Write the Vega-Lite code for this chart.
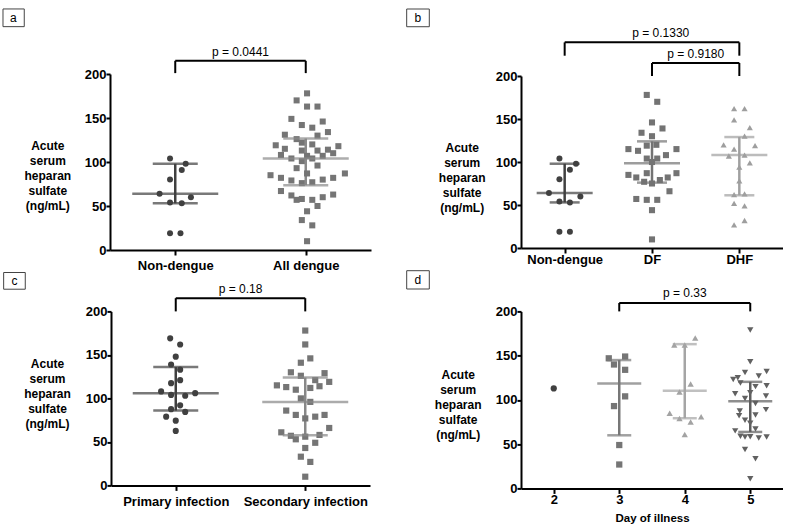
{
"$schema":"https://vega.github.io/schema/vega-lite/v6.json",
"background":"white",
"padding":{"left":2,"top":8,"right":0,"bottom":0},
"config":{
 "view":{"stroke":null},
 "font":"Liberation Sans",
 "axis":{"domainColor":"#000","domainWidth":2,"tickColor":"#000","tickWidth":2,"tickSize":5,"labelColor":"#000","labelFont":"Liberation Sans","labelFontSize":13,"labelFontWeight":"bold","titleFont":"Liberation Sans","titleFontSize":12,"titleFontWeight":"bold","titleColor":"#000","grid":false,"labelFlush":false,"labelOverlap":false},
 "axisY":{"titleAngle":0,"titleAlign":"center","titleBaseline":"middle","titleLineHeight":15,"tickSize":4,"labelPadding":0},
 "text":{"font":"Liberation Sans","fontSize":12,"color":"#000"}
},
"datasets":{
 "a_pts":[
  {"g":"Non-dengue","x":0.96,"v":104},{"g":"Non-dengue","x":1.08,"v":98},{"g":"Non-dengue","x":1.05,"v":91},{"g":"Non-dengue","x":0.96,"v":80},{"g":"Non-dengue","x":0.88,"v":64},{"g":"Non-dengue","x":1.12,"v":60},{"g":"Non-dengue","x":0.96,"v":54},{"g":"Non-dengue","x":1.05,"v":53},{"g":"Non-dengue","x":0.96,"v":19},{"g":"Non-dengue","x":1.04,"v":19},
  {"g":"All dengue","x":2.01,"v":178},{"g":"All dengue","x":1.93,"v":170},{"g":"All dengue","x":2.01,"v":163},{"g":"All dengue","x":2.09,"v":163},{"g":"All dengue","x":1.89,"v":149},{"g":"All dengue","x":1.97,"v":142},{"g":"All dengue","x":2.05,"v":139},{"g":"All dengue","x":2.13,"v":146},{"g":"All dengue","x":2.17,"v":134},{"g":"All dengue","x":1.84,"v":131},
  {"g":"All dengue","x":1.93,"v":126},{"g":"All dengue","x":2.09,"v":130},{"g":"All dengue","x":1.97,"v":122},{"g":"All dengue","x":2.05,"v":120},{"g":"All dengue","x":1.77,"v":119},{"g":"All dengue","x":1.84,"v":115},{"g":"All dengue","x":1.97,"v":113},{"g":"All dengue","x":2.09,"v":113},{"g":"All dengue","x":2.17,"v":114},{"g":"All dengue","x":2.25,"v":118},
  {"g":"All dengue","x":2.21,"v":110},{"g":"All dengue","x":1.81,"v":108},{"g":"All dengue","x":1.89,"v":104},{"g":"All dengue","x":1.97,"v":101},{"g":"All dengue","x":2.05,"v":104},{"g":"All dengue","x":2.13,"v":107},{"g":"All dengue","x":2.01,"v":107},{"g":"All dengue","x":2.09,"v":96},{"g":"All dengue","x":1.93,"v":93},{"g":"All dengue","x":2.01,"v":87},
  {"g":"All dengue","x":1.73,"v":85},{"g":"All dengue","x":1.81,"v":82},{"g":"All dengue","x":1.89,"v":79},{"g":"All dengue","x":1.97,"v":76},{"g":"All dengue","x":2.05,"v":77},{"g":"All dengue","x":2.13,"v":80},{"g":"All dengue","x":2.21,"v":82},{"g":"All dengue","x":2.3,"v":87},{"g":"All dengue","x":1.81,"v":67},{"g":"All dengue","x":1.89,"v":62},
  {"g":"All dengue","x":1.93,"v":57},{"g":"All dengue","x":1.97,"v":58},{"g":"All dengue","x":2.05,"v":57},{"g":"All dengue","x":2.09,"v":50},{"g":"All dengue","x":2.13,"v":60},{"g":"All dengue","x":2.21,"v":63},{"g":"All dengue","x":2.01,"v":44},{"g":"All dengue","x":1.97,"v":34},{"g":"All dengue","x":2.05,"v":28},{"g":"All dengue","x":2.01,"v":10}
 ],
 "a_stats":[{"g":"Non-dengue","x":1,"v":64,"lo":53,"hi":98},{"g":"All dengue","x":2,"v":104,"lo":73.6,"hi":126.7}],
 "a_br":[{"x":1,"x2":2,"v":215,"v2":215},{"x":1,"x2":1,"v":201,"v2":215},{"x":2,"x2":2,"v":201,"v2":215}],
 "a_txt":[{"x":1.5,"v":225.5,"t":"p = 0.0441"},{"x":-0.24,"v":263.9,"t":"a"}],
 "a_box":[{"x":-0.32,"x2":-0.157,"v":273.9,"v2":253.8}],
 "b_pts":[
  {"g":"Non-dengue","x":0.94,"v":104},{"g":"Non-dengue","x":1.13,"v":98},{"g":"Non-dengue","x":1.06,"v":91},{"g":"Non-dengue","x":0.94,"v":80},{"g":"Non-dengue","x":0.82,"v":64},{"g":"Non-dengue","x":1.18,"v":60},{"g":"Non-dengue","x":0.94,"v":54},{"g":"Non-dengue","x":1.06,"v":53},{"g":"Non-dengue","x":0.94,"v":19},{"g":"Non-dengue","x":1.06,"v":19},
  {"g":"DF","x":1.94,"v":178},{"g":"DF","x":2.06,"v":170},{"g":"DF","x":2.0,"v":146},{"g":"DF","x":2.12,"v":139},{"g":"DF","x":1.88,"v":134},{"g":"DF","x":2.0,"v":130},{"g":"DF","x":1.94,"v":119},{"g":"DF","x":2.05,"v":120},{"g":"DF","x":1.73,"v":115},{"g":"DF","x":1.84,"v":113},
  {"g":"DF","x":2.28,"v":115},{"g":"DF","x":2.16,"v":108},{"g":"DF","x":1.94,"v":104},{"g":"DF","x":2.06,"v":104},{"g":"DF","x":2.0,"v":100},{"g":"DF","x":1.94,"v":87},{"g":"DF","x":1.73,"v":85},{"g":"DF","x":2.28,"v":87},{"g":"DF","x":1.82,"v":82},{"g":"DF","x":2.18,"v":82},
  {"g":"DF","x":1.91,"v":77},{"g":"DF","x":2.09,"v":79},{"g":"DF","x":2.0,"v":75},{"g":"DF","x":2.2,"v":66},{"g":"DF","x":1.82,"v":57},{"g":"DF","x":1.94,"v":56},{"g":"DF","x":2.06,"v":56},{"g":"DF","x":2.0,"v":44},{"g":"DF","x":2.0,"v":10},
  {"g":"DHF","x":2.94,"v":162},{"g":"DHF","x":3.06,"v":162},{"g":"DHF","x":2.94,"v":149},{"g":"DHF","x":3.12,"v":140},{"g":"DHF","x":3.06,"v":130},{"g":"DHF","x":2.82,"v":120},{"g":"DHF","x":3.18,"v":119},{"g":"DHF","x":2.94,"v":115},{"g":"DHF","x":3.06,"v":108},{"g":"DHF","x":2.88,"v":107},
  {"g":"DHF","x":3.12,"v":99},{"g":"DHF","x":3.0,"v":94},{"g":"DHF","x":3.0,"v":78},{"g":"DHF","x":2.94,"v":62},{"g":"DHF","x":3.06,"v":63},{"g":"DHF","x":2.94,"v":52},{"g":"DHF","x":3.06,"v":49},{"g":"DHF","x":2.94,"v":27},{"g":"DHF","x":3.06,"v":32}
 ],
 "b_stats":[{"g":"Non-dengue","x":1,"v":64,"lo":53,"hi":98},{"g":"DF","x":2,"v":98.6,"lo":76,"hi":124},{"g":"DHF","x":3,"v":108,"lo":61.3,"hi":129}],
 "b_br":[{"x":1,"x2":3,"v":239.1,"v2":239.1},{"x":1,"x2":1,"v":223.6,"v2":239.1},{"x":3,"x2":3,"v":223.6,"v2":239.1},{"x":2,"x2":3,"v":215.1,"v2":215.1},{"x":2,"x2":2,"v":200,"v2":215.1},{"x":3,"x2":3,"v":200,"v2":215.1}],
 "b_txt":[{"x":2.1,"v":250,"t":"p = 0.1330"},{"x":2.5,"v":225.6,"t":"p = 0.9180"},{"x":-0.68,"v":267.6,"t":"b"}],
 "b_box":[{"x":-0.809,"x2":-0.55,"v":277.9,"v2":257.3}],
 "c_pts":[
  {"g":"Primary infection","x":0.957,"v":169},{"g":"Primary infection","x":1.034,"v":162},{"g":"Primary infection","x":1.0,"v":148},{"g":"Primary infection","x":0.964,"v":139},{"g":"Primary infection","x":1.034,"v":133},{"g":"Primary infection","x":1.034,"v":121},{"g":"Primary infection","x":0.964,"v":117.5},{"g":"Primary infection","x":0.887,"v":108},{"g":"Primary infection","x":0.964,"v":104},{"g":"Primary infection","x":1.073,"v":103},
  {"g":"Primary infection","x":1.15,"v":106},{"g":"Primary infection","x":1.034,"v":92},{"g":"Primary infection","x":0.964,"v":87.6},{"g":"Primary infection","x":1.073,"v":84.5},{"g":"Primary infection","x":0.926,"v":79},{"g":"Primary infection","x":1.0,"v":74.4},{"g":"Primary infection","x":1.0,"v":62.6},
  {"g":"Secondary infection","x":2.0,"v":178},{"g":"Secondary infection","x":2.0,"v":162},{"g":"Secondary infection","x":1.966,"v":141},{"g":"Secondary infection","x":2.039,"v":146},{"g":"Secondary infection","x":1.889,"v":130},{"g":"Secondary infection","x":1.966,"v":126},{"g":"Secondary infection","x":2.149,"v":129},{"g":"Secondary infection","x":2.077,"v":121},{"g":"Secondary infection","x":2.185,"v":119},{"g":"Secondary infection","x":1.781,"v":115},
  {"g":"Secondary infection","x":1.853,"v":113},{"g":"Secondary infection","x":1.927,"v":110},{"g":"Secondary infection","x":2.039,"v":112},{"g":"Secondary infection","x":2.11,"v":114},{"g":"Secondary infection","x":1.966,"v":100},{"g":"Secondary infection","x":2.039,"v":96},{"g":"Secondary infection","x":1.853,"v":86},{"g":"Secondary infection","x":1.927,"v":81},{"g":"Secondary infection","x":2.0,"v":77},{"g":"Secondary infection","x":2.077,"v":79},
  {"g":"Secondary infection","x":2.149,"v":81},{"g":"Secondary infection","x":2.185,"v":66},{"g":"Secondary infection","x":1.815,"v":61},{"g":"Secondary infection","x":1.889,"v":57},{"g":"Secondary infection","x":1.927,"v":53},{"g":"Secondary infection","x":2.0,"v":56},{"g":"Secondary infection","x":2.11,"v":58},{"g":"Secondary infection","x":2.077,"v":49},{"g":"Secondary infection","x":2.0,"v":43},{"g":"Secondary infection","x":1.966,"v":33},
  {"g":"Secondary infection","x":2.039,"v":27},{"g":"Secondary infection","x":2.0,"v":10}
 ],
 "c_stats":[{"g":"Primary infection","x":1,"v":106,"lo":86,"hi":136},{"g":"Secondary infection","x":2,"v":96,"lo":57.6,"hi":124}],
 "c_br":[{"x":1,"x2":2,"v":215.2,"v2":215.2},{"x":1,"x2":1,"v":200,"v2":215.2},{"x":2,"x2":2,"v":200,"v2":215.2}],
 "c_txt":[{"x":1.5,"v":225.5,"t":"p = 0.18"},{"x":-0.245,"v":235.1,"t":"c"}],
 "c_box":[{"x":-0.329,"x2":-0.162,"v":244.7,"v2":225.5}],
 "d_pts":[
  {"g":"Day 2","x":2,"v":113},
  {"g":"Day 3","x":2.84,"v":147},{"g":"Day 3","x":3.09,"v":149},{"g":"Day 3","x":2.92,"v":140},{"g":"Day 3","x":3.09,"v":134},{"g":"Day 3","x":3.09,"v":104},{"g":"Day 3","x":2.92,"v":93},{"g":"Day 3","x":3.0,"v":49},{"g":"Day 3","x":3.0,"v":27},
  {"g":"Day 4","x":4.16,"v":170},{"g":"Day 4","x":3.84,"v":162},{"g":"Day 4","x":4.0,"v":162},{"g":"Day 4","x":4.09,"v":118},{"g":"Day 4","x":3.92,"v":109},{"g":"Day 4","x":3.77,"v":85},{"g":"Day 4","x":3.92,"v":79},{"g":"Day 4","x":4.09,"v":75},{"g":"Day 4","x":4.25,"v":81},{"g":"Day 4","x":4.0,"v":61},
  {"g":"Day 5","x":5.0,"v":179},{"g":"Day 5","x":5.0,"v":143},{"g":"Day 5","x":4.92,"v":131},{"g":"Day 5","x":5.13,"v":127},{"g":"Day 5","x":5.25,"v":132},{"g":"Day 5","x":4.74,"v":123},{"g":"Day 5","x":4.81,"v":125},{"g":"Day 5","x":4.85,"v":119},{"g":"Day 5","x":5.08,"v":115},{"g":"Day 5","x":5.25,"v":116},
  {"g":"Day 5","x":4.77,"v":107},{"g":"Day 5","x":4.92,"v":101.5},{"g":"Day 5","x":5.0,"v":108},{"g":"Day 5","x":5.08,"v":96},{"g":"Day 5","x":5.24,"v":104.5},{"g":"Day 5","x":5.24,"v":89},{"g":"Day 5","x":4.84,"v":87.5},{"g":"Day 5","x":4.83,"v":82},{"g":"Day 5","x":4.92,"v":77},{"g":"Day 5","x":5.08,"v":83},
  {"g":"Day 5","x":5.0,"v":73.6},{"g":"Day 5","x":4.77,"v":65},{"g":"Day 5","x":5.08,"v":67},{"g":"Day 5","x":4.85,"v":59},{"g":"Day 5","x":4.92,"v":58},{"g":"Day 5","x":5.0,"v":58.4},{"g":"Day 5","x":5.13,"v":57},{"g":"Day 5","x":5.25,"v":58},{"g":"Day 5","x":4.92,"v":44},{"g":"Day 5","x":5.08,"v":33.5},
  {"g":"Day 5","x":5.0,"v":11}
 ],
 "d_stats":[{"g":"Day 3","x":3,"v":118.5,"lo":60,"hi":145},{"g":"Day 4","x":4,"v":110.2,"lo":79.3,"hi":163},{"g":"Day 5","x":5,"v":98.5,"lo":63.8,"hi":120.4}],
 "d_br":[{"x":3,"x2":5,"v":209.5,"v2":209.5},{"x":3,"x2":3,"v":200,"v2":209.5},{"x":5,"x2":5,"v":200,"v2":209.5}],
 "d_txt":[{"x":4,"v":220.8,"t":"p = 0.33"},{"x":-0.073,"v":235.6,"t":"d"}],
 "d_box":[{"x":-0.245,"x2":0.1,"v":246,"v2":225.3}]
},
"columns":2,
"spacing":{"row":61.4,"column":150},
"bounds":"flush",
"align":"each",
"center":true,
"concat":[
  {"width":261,"height":176,
   "encoding":{
    "x":{"field":"x","type":"quantitative","scale":{"domain":[0.5,2.5],"nice":false,"zero":false},"axis":{"values":[1,2],"labelExpr":"datum.value == 1 ? 'Non-dengue' : 'All dengue'","title":null,"labelPadding":4.5}},
    "y":{"field":"v","type":"quantitative","scale":{"domain":[0,200],"nice":false},"axis":{"values":[0,50,100,150,200],"title":["Acute","serum","heparan","sulfate","(ng/mL)"],"titleX":-62.7,"titleY":71.7}}},
   "layer":[
    {"data":{"name":"a_box"},"mark":{"type":"rect","fill":"white","stroke":"#444","strokeWidth":1,"clip":false},"encoding":{"x2":{"field":"x2"},"y2":{"field":"v2"}}},
    {"data":{"name":"a_br"},"mark":{"type":"rule","strokeWidth":2,"color":"#000","clip":false},"encoding":{"x2":{"field":"x2"},"y2":{"field":"v2"}}},
    {"data":{"name":"a_txt"},"mark":{"type":"text","align":"center","baseline":"middle","clip":false},"encoding":{"text":{"field":"t"}}},
    {"data":{"name":"a_stats"},"mark":{"type":"rule","strokeWidth":2.5},"encoding":{"y":{"field":"lo","type":"quantitative"},"y2":{"field":"hi"},"color":{"field":"g","type":"nominal","legend":null,"scale":{"domain":["Non-dengue","All dengue","DF","DHF","Primary infection","Secondary infection","Day 2","Day 3","Day 4","Day 5"],"range":["#404040","#8a8a8a","#737373","#a0a0a0","#404040","#888888","#404040","#777777","#a5a5a5","#5e5e5e"]}}}},
    {"data":{"name":"a_pts"},"mark":{"type":"point","filled":true,"opacity":1,"strokeWidth":0},"encoding":{"fill":{"field":"g","type":"nominal","legend":null,"scale":{"domain":["Non-dengue","All dengue","DF","DHF","Primary infection","Secondary infection","Day 2","Day 3","Day 4","Day 5"],"range":["#404040","#757575","#737373","#9e9e9e","#404040","#757575","#404040","#757575","#a3a3a3","#616161"]}},"shape":{"field":"g","type":"nominal","legend":null,"scale":{"domain":["Non-dengue","All dengue","DF","DHF","Primary infection","Secondary infection","Day 2","Day 3","Day 4","Day 5"],"range":["circle","square","square","triangle-up","circle","square","circle","square","triangle-up","triangle-down"]}},"size":{"field":"g","type":"nominal","legend":null,"scale":{"domain":["Non-dengue","All dengue","DF","DHF","Primary infection","Secondary infection","Day 2","Day 3","Day 4","Day 5"],"range":[36,40,40,50,36,40,36,40,50,50]}}}},
    {"data":{"name":"a_stats"},"mark":{"type":"tick","orient":"horizontal","thickness":2.5},"encoding":{"size":{"value":86},"color":{"field":"g","type":"nominal","legend":null}}},
    {"data":{"name":"a_stats"},"mark":{"type":"tick","orient":"horizontal","thickness":2.5},"encoding":{"y":{"field":"lo","type":"quantitative"},"size":{"value":45},"color":{"field":"g","type":"nominal","legend":null}}},
    {"data":{"name":"a_stats"},"mark":{"type":"tick","orient":"horizontal","thickness":2.5},"encoding":{"y":{"field":"hi","type":"quantitative"},"size":{"value":45},"color":{"field":"g","type":"nominal","legend":null}}}
   ]},
  {"width":262,"height":172,
   "encoding":{
    "x":{"field":"x","type":"quantitative","scale":{"domain":[0.5,3.5],"nice":false,"zero":false},"axis":{"values":[1,2,3],"labelExpr":"datum.value == 1 ? 'Non-dengue' : datum.value == 2 ? 'DF' : 'DHF'","title":null,"labelPadding":0}},
    "y":{"field":"v","type":"quantitative","scale":{"domain":[0,200],"nice":false},"axis":{"values":[0,50,100,150,200],"title":["Acute","serum","heparan","sulfate","(ng/mL)"],"titleX":-59.3,"titleY":71.7}}},
   "layer":[
    {"data":{"name":"b_box"},"mark":{"type":"rect","fill":"white","stroke":"#444","strokeWidth":1,"clip":false},"encoding":{"x2":{"field":"x2"},"y2":{"field":"v2"}}},
    {"data":{"name":"b_br"},"mark":{"type":"rule","strokeWidth":2,"color":"#000","clip":false},"encoding":{"x2":{"field":"x2"},"y2":{"field":"v2"}}},
    {"data":{"name":"b_txt"},"mark":{"type":"text","align":"center","baseline":"middle","clip":false},"encoding":{"text":{"field":"t"}}},
    {"data":{"name":"b_stats"},"mark":{"type":"rule","strokeWidth":2.5},"encoding":{"y":{"field":"lo","type":"quantitative"},"y2":{"field":"hi"},"color":{"field":"g","type":"nominal","legend":null,"scale":{"domain":["Non-dengue","All dengue","DF","DHF","Primary infection","Secondary infection","Day 2","Day 3","Day 4","Day 5"],"range":["#404040","#8a8a8a","#737373","#a0a0a0","#404040","#888888","#404040","#777777","#a5a5a5","#5e5e5e"]}}}},
    {"data":{"name":"b_pts"},"mark":{"type":"point","filled":true,"opacity":1,"strokeWidth":0},"encoding":{"fill":{"field":"g","type":"nominal","legend":null,"scale":{"domain":["Non-dengue","All dengue","DF","DHF","Primary infection","Secondary infection","Day 2","Day 3","Day 4","Day 5"],"range":["#404040","#757575","#737373","#9e9e9e","#404040","#757575","#404040","#757575","#a3a3a3","#616161"]}},"shape":{"field":"g","type":"nominal","legend":null,"scale":{"domain":["Non-dengue","All dengue","DF","DHF","Primary infection","Secondary infection","Day 2","Day 3","Day 4","Day 5"],"range":["circle","square","square","triangle-up","circle","square","circle","square","triangle-up","triangle-down"]}},"size":{"field":"g","type":"nominal","legend":null,"scale":{"domain":["Non-dengue","All dengue","DF","DHF","Primary infection","Secondary infection","Day 2","Day 3","Day 4","Day 5"],"range":[36,40,40,50,36,40,36,40,50,50]}}}},
    {"data":{"name":"b_stats"},"mark":{"type":"tick","orient":"horizontal","thickness":2.5},"encoding":{"size":{"value":56},"color":{"field":"g","type":"nominal","legend":null}}},
    {"data":{"name":"b_stats"},"mark":{"type":"tick","orient":"horizontal","thickness":2.5},"encoding":{"y":{"field":"lo","type":"quantitative"},"size":{"value":30},"color":{"field":"g","type":"nominal","legend":null}}},
    {"data":{"name":"b_stats"},"mark":{"type":"tick","orient":"horizontal","thickness":2.5},"encoding":{"y":{"field":"hi","type":"quantitative"},"size":{"value":30},"color":{"field":"g","type":"nominal","legend":null}}}
   ]},
  {"width":259,"height":174,
   "encoding":{
    "x":{"field":"x","type":"quantitative","scale":{"domain":[0.5,2.5],"nice":false,"zero":false},"axis":{"values":[1,2],"labelExpr":"datum.value == 1 ? 'Primary infection' : 'Secondary infection'","title":null,"labelPadding":5}},
    "y":{"field":"v","type":"quantitative","scale":{"domain":[0,200],"nice":false},"axis":{"values":[0,50,100,150,200],"title":["Acute","serum","heparan","sulfate","(ng/mL)"],"titleX":-64,"titleY":52.1}}},
   "layer":[
    {"data":{"name":"c_box"},"mark":{"type":"rect","fill":"white","stroke":"#444","strokeWidth":1,"clip":false},"encoding":{"x2":{"field":"x2"},"y2":{"field":"v2"}}},
    {"data":{"name":"c_br"},"mark":{"type":"rule","strokeWidth":2,"color":"#000","clip":false},"encoding":{"x2":{"field":"x2"},"y2":{"field":"v2"}}},
    {"data":{"name":"c_txt"},"mark":{"type":"text","align":"center","baseline":"middle","clip":false},"encoding":{"text":{"field":"t"}}},
    {"data":{"name":"c_stats"},"mark":{"type":"rule","strokeWidth":2.5},"encoding":{"y":{"field":"lo","type":"quantitative"},"y2":{"field":"hi"},"color":{"field":"g","type":"nominal","legend":null,"scale":{"domain":["Non-dengue","All dengue","DF","DHF","Primary infection","Secondary infection","Day 2","Day 3","Day 4","Day 5"],"range":["#404040","#8a8a8a","#737373","#a0a0a0","#404040","#888888","#404040","#777777","#a5a5a5","#5e5e5e"]}}}},
    {"data":{"name":"c_pts"},"mark":{"type":"point","filled":true,"opacity":1,"strokeWidth":0},"encoding":{"fill":{"field":"g","type":"nominal","legend":null,"scale":{"domain":["Non-dengue","All dengue","DF","DHF","Primary infection","Secondary infection","Day 2","Day 3","Day 4","Day 5"],"range":["#404040","#757575","#737373","#9e9e9e","#404040","#757575","#404040","#757575","#a3a3a3","#616161"]}},"shape":{"field":"g","type":"nominal","legend":null,"scale":{"domain":["Non-dengue","All dengue","DF","DHF","Primary infection","Secondary infection","Day 2","Day 3","Day 4","Day 5"],"range":["circle","square","square","triangle-up","circle","square","circle","square","triangle-up","triangle-down"]}},"size":{"field":"g","type":"nominal","legend":null,"scale":{"domain":["Non-dengue","All dengue","DF","DHF","Primary infection","Secondary infection","Day 2","Day 3","Day 4","Day 5"],"range":[36,40,40,50,36,40,36,40,50,50]}}}},
    {"data":{"name":"c_stats"},"mark":{"type":"tick","orient":"horizontal","thickness":2.5},"encoding":{"size":{"value":86},"color":{"field":"g","type":"nominal","legend":null}}},
    {"data":{"name":"c_stats"},"mark":{"type":"tick","orient":"horizontal","thickness":2.5},"encoding":{"y":{"field":"lo","type":"quantitative"},"size":{"value":45},"color":{"field":"g","type":"nominal","legend":null}}},
    {"data":{"name":"c_stats"},"mark":{"type":"tick","orient":"horizontal","thickness":2.5},"encoding":{"y":{"field":"hi","type":"quantitative"},"size":{"value":45},"color":{"field":"g","type":"nominal","legend":null}}}
   ]},
  {"width":262,"height":177,
   "encoding":{
    "x":{"field":"x","type":"quantitative","scale":{"domain":[1.5,5.5],"nice":false,"zero":false},"axis":{"values":[2,3,4,5],"format":"d","title":"Day of illness","titleFontSize":11.5,"titlePadding":6,"labelPadding":0}},
    "y":{"field":"v","type":"quantitative","scale":{"domain":[0,200],"nice":false},"axis":{"values":[0,50,100,150,200],"title":["Acute","serum","heparan","sulfate","(ng/mL)"],"titleX":-63.3,"titleY":62.8}}},
   "layer":[
    {"data":{"name":"d_box"},"mark":{"type":"rect","fill":"white","stroke":"#444","strokeWidth":1,"clip":false},"encoding":{"x2":{"field":"x2"},"y2":{"field":"v2"}}},
    {"data":{"name":"d_br"},"mark":{"type":"rule","strokeWidth":2,"color":"#000","clip":false},"encoding":{"x2":{"field":"x2"},"y2":{"field":"v2"}}},
    {"data":{"name":"d_txt"},"mark":{"type":"text","align":"center","baseline":"middle","clip":false},"encoding":{"text":{"field":"t"}}},
    {"data":{"name":"d_stats"},"mark":{"type":"rule","strokeWidth":2.5},"encoding":{"y":{"field":"lo","type":"quantitative"},"y2":{"field":"hi"},"color":{"field":"g","type":"nominal","legend":null,"scale":{"domain":["Non-dengue","All dengue","DF","DHF","Primary infection","Secondary infection","Day 2","Day 3","Day 4","Day 5"],"range":["#404040","#8a8a8a","#737373","#a0a0a0","#404040","#888888","#404040","#777777","#a5a5a5","#5e5e5e"]}}}},
    {"data":{"name":"d_pts"},"mark":{"type":"point","filled":true,"opacity":1,"strokeWidth":0},"encoding":{"fill":{"field":"g","type":"nominal","legend":null,"scale":{"domain":["Non-dengue","All dengue","DF","DHF","Primary infection","Secondary infection","Day 2","Day 3","Day 4","Day 5"],"range":["#404040","#757575","#737373","#9e9e9e","#404040","#757575","#404040","#757575","#a3a3a3","#616161"]}},"shape":{"field":"g","type":"nominal","legend":null,"scale":{"domain":["Non-dengue","All dengue","DF","DHF","Primary infection","Secondary infection","Day 2","Day 3","Day 4","Day 5"],"range":["circle","square","square","triangle-up","circle","square","circle","square","triangle-up","triangle-down"]}},"size":{"field":"g","type":"nominal","legend":null,"scale":{"domain":["Non-dengue","All dengue","DF","DHF","Primary infection","Secondary infection","Day 2","Day 3","Day 4","Day 5"],"range":[36,40,40,50,36,40,36,40,50,50]}}}},
    {"data":{"name":"d_stats"},"mark":{"type":"tick","orient":"horizontal","thickness":2.5},"encoding":{"size":{"value":44},"color":{"field":"g","type":"nominal","legend":null}}},
    {"data":{"name":"d_stats"},"mark":{"type":"tick","orient":"horizontal","thickness":2.5},"encoding":{"y":{"field":"lo","type":"quantitative"},"size":{"value":24},"color":{"field":"g","type":"nominal","legend":null}}},
    {"data":{"name":"d_stats"},"mark":{"type":"tick","orient":"horizontal","thickness":2.5},"encoding":{"y":{"field":"hi","type":"quantitative"},"size":{"value":24},"color":{"field":"g","type":"nominal","legend":null}}}
   ]}
]
}
